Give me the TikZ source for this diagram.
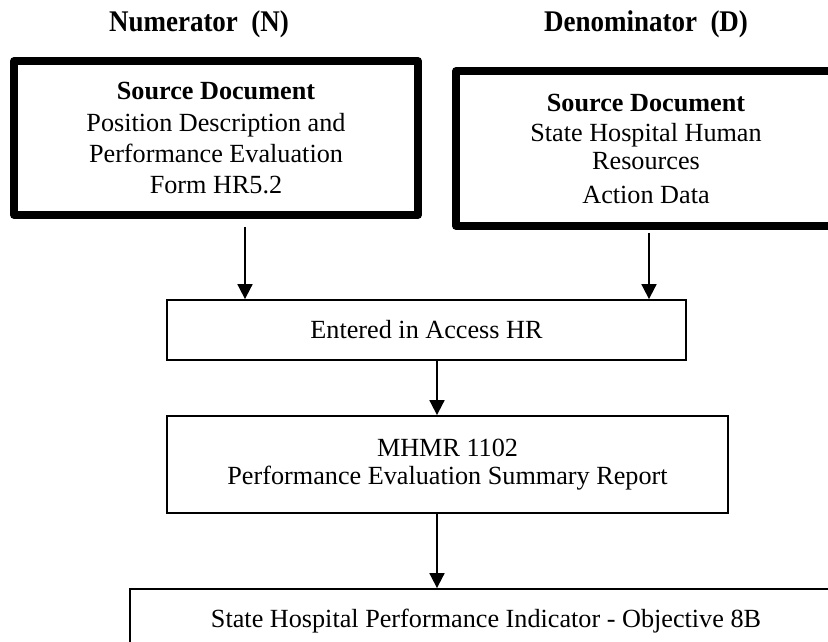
\documentclass[tikz,border=0pt]{standalone}
\usepackage{fontspec}
\setmainfont{Liberation Serif}
\newfontfamily\headfont[FakeStretch=0.9]{Liberation Serif}
\usetikzlibrary{arrows.meta}

\tikzset{
  head/.style={font=\headfont\bfseries\fontsize{30}{34}\selectfont, anchor=base},
  srcbox/.style={draw, line width=7.5pt, line join=round, align=center,
    font=\fontsize{26.2}{31}\selectfont},
  stepbox/.style={draw, line width=1.8pt, align=center,
    font=\fontsize{26.2}{31}\selectfont},
  arr/.style={-{Triangle[width=15pt,length=15pt]}, line width=1.8pt}
}

\begin{document}
\begin{tikzpicture}[x=1pt, y=1pt]
  \useasboundingbox (0,0) rectangle (828,-642);

  % Intestazioni
  \node[head] (numhead) at (199,-32) {Numerator\ \ (N)};
  \node[head] (denhead) at (646,-32) {Denominator\ \ (D)};

  % Documenti sorgente
  \node[srcbox, minimum width=404pt, minimum height=154pt] (numsrc) at (216,-138)
    {\textbf{Source Document}\\[1pt] Position Description and\\ Performance Evaluation\\ Form HR5.2};
  \node[srcbox, minimum width=380pt, minimum height=155pt] (densrc) at (646,-148.5)
    {\textbf{Source Document}\\[-1pt] State Hospital Human\\[-3pt] Resources\\[3pt] Action Data};

  % Passaggi
  \node[stepbox, minimum width=519pt, minimum height=60pt] (access) at (426.5,-330)
    {Entered in Access HR};
  \node[stepbox, minimum width=561pt, minimum height=97pt] (mhmr) at (447.5,-464.5)
    {MHMR 1102\\[-3pt] Performance Evaluation Summary Report};
  \node[stepbox, minimum width=712pt, minimum height=64pt] (indic) at (486,-621)
    {State Hospital Performance Indicator - Objective 8B};

  % Frecce
  \draw[arr] ([xshift=29pt,yshift=-8pt]numsrc.south) -- ([xshift=29pt]numsrc.south |- access.north);
  \draw[arr] ([xshift=3pt,yshift=-3pt]densrc.south) -- ([xshift=3pt]densrc.south |- access.north);
  \draw[arr] ([xshift=10.5pt]access.south) -- ([xshift=10.5pt]access.south |- mhmr.north);
  \draw[arr] ([xshift=-10.5pt]mhmr.south) -- ([xshift=-10.5pt]mhmr.south |- indic.north);
\end{tikzpicture}
\end{document}
